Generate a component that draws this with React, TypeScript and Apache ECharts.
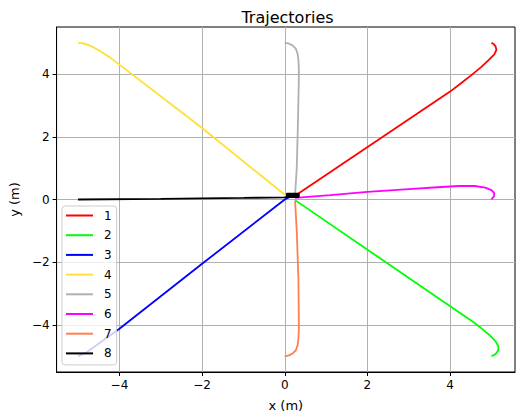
import React, { useEffect, useRef } from "react";
import * as echarts from "echarts";

const names = ["1", "2", "3", "4", "5", "6", "7", "8"];
const colors = ["#ff0000", "#00ff00", "#0000ff", "#ffe033", "#b0b0b0", "#ff00ff", "#ff7f50", "#000000"];

const traj1 = [[5.0, 5.0], [5.05, 4.96], [5.1, 4.88], [5.12, 4.77], [5.07, 4.63], [4.95, 4.47], [4.75, 4.22], [4.5, 3.95], [4.24, 3.68], [4.0, 3.44], [0.25, 0.12]];
const traj2 = [[5.0, -5.0], [5.1, -4.93], [5.16, -4.82], [5.17, -4.68], [5.1, -4.52], [4.95, -4.32], [4.75, -4.1], [4.55, -3.9], [0.25, -0.02]];
const traj3 = [[-5.0, -5.0], [-4.9, -4.93], [-4.8, -4.88], [-4, -4.12], [-2, -2.05], [0, 0.0], [0.15, 0.1]];
const traj4 = [[-5.0, 5.0], [-4.85, 4.97], [-4.7, 4.9], [-4.5, 4.76], [-4.2, 4.5], [-4, 4.3], [-2, 2.28], [0, 0.15], [0.15, 0.1]];
const traj5 = [[0.0, 5.0], [0.1, 4.97], [0.2, 4.9], [0.27, 4.8], [0.31, 4.65], [0.33, 4.45], [0.34, 4.2], [0.34, 3.8], [0.32, 2.5], [0.29, 1.0], [0.25, 0.15]];
const traj6 = [[5.0, 0.0], [5.06, 0.1], [5.07, 0.2], [5.0, 0.3], [4.85, 0.38], [4.6, 0.43], [4.2, 0.43], [3.7, 0.39], [3.0, 0.33], [2.0, 0.245], [1.1, 0.14], [0.25, 0.05]];
const traj7 = [[0.0, -5.0], [0.1, -4.97], [0.2, -4.9], [0.27, -4.8], [0.31, -4.65], [0.33, -4.45], [0.34, -4.2], [0.34, -3.8], [0.33, -2.5], [0.29, -1.0], [0.25, -0.05]];
const traj8 = [[-5.0, 0.0], [-3, 0.02], [-1, 0.05], [0, 0.07], [0.05, 0.08], [0.34, 0.08], [0.34, 0.19], [0.05, 0.19], [0.05, 0.14], [0.34, 0.14], [0.34, 0.11], [0.05, 0.11], [0.05, 0.17], [0.34, 0.17]];
const trajectories = [traj1, traj2, traj3, traj4, traj5, traj6, traj7, traj8];

const xTicks = [-4, -2, 0, 2, 4];
const yTicks = [-4, -2, 0, 2, 4];

const FONT = "DejaVu Sans";
const fmt = (v: number) => String(v).replace("-", "\u2212");

export default function App() {
  const ref = useRef<HTMLDivElement>(null);
  useEffect(() => {
    const chart = echarts.init(ref.current!, null, { renderer: "svg" });
    const axisCommon = {
      nameLocation: "middle",
      nameTextStyle: { fontFamily: FONT, fontSize: 13, color: "#000" },
      axisLine: { show: true, onZero: false, lineStyle: { color: "#000", width: 1 } },
      axisTick: { show: true, length: 4, lineStyle: { color: "#000" } },
      axisLabel: { fontFamily: FONT, fontSize: 12, color: "#000", formatter: fmt, margin: 7 },
      splitLine: { show: true, lineStyle: { color: "#b0b0b0", width: 1 } },
    };
    chart.setOption({
      animation: false,
      backgroundColor: "#fff",
      title: {
        text: "Trajectories",
        left: 282.5,
        top: 4,
        textAlign: "center",
        textStyle: { fontFamily: FONT, fontSize: 16, fontWeight: "normal", color: "#000" },
      },
      grid: { left: 55, right: 1, top: 27, bottom: 46, show: true, borderColor: "#000", borderWidth: 1, backgroundColor: "transparent" },
      xAxis: {
        ...axisCommon,
        type: "value",
        min: -5.52,
        max: 5.57,
        name: "x (m)",
        nameGap: 27,
        axisTick: { ...axisCommon.axisTick, customValues: xTicks },
        axisLabel: { ...axisCommon.axisLabel, customValues: xTicks },
      },
      yAxis: {
        ...axisCommon,
        type: "value",
        min: -5.5,
        max: 5.5,
        name: "y (m)",
        nameGap: 33,
        axisTick: { ...axisCommon.axisTick, customValues: yTicks },
        axisLabel: { ...axisCommon.axisLabel, customValues: yTicks },
      },
      legend: {
        orient: "vertical",
        left: 62,
        top: 206,
        data: names,
        icon: "rect",
        itemWidth: 27,
        itemHeight: 2,
        itemGap: 4.7,
        padding: [2, 5, 4, 4],
        backgroundColor: "rgba(255,255,255,0.8)",
        borderColor: "#cccccc",
        borderWidth: 1,
        borderRadius: 3,
        textStyle: { fontFamily: FONT, fontSize: 12, color: "#000", lineHeight: 15, padding: [0, 0, 0, 6] },
      },
      series: trajectories.map((d, i) => ({
        name: names[i],
        type: "line",
        data: d,
        showSymbol: false,
        symbol: "none",
        color: colors[i],
        lineStyle: { color: colors[i], width: 1.8 },
        itemStyle: { color: colors[i] },
      })),
    });
    return () => chart.dispose();
  }, []);
  return <div ref={ref} style={{ width: 516, height: 418, position: "absolute", left: 0, top: 0 }} />;
}
